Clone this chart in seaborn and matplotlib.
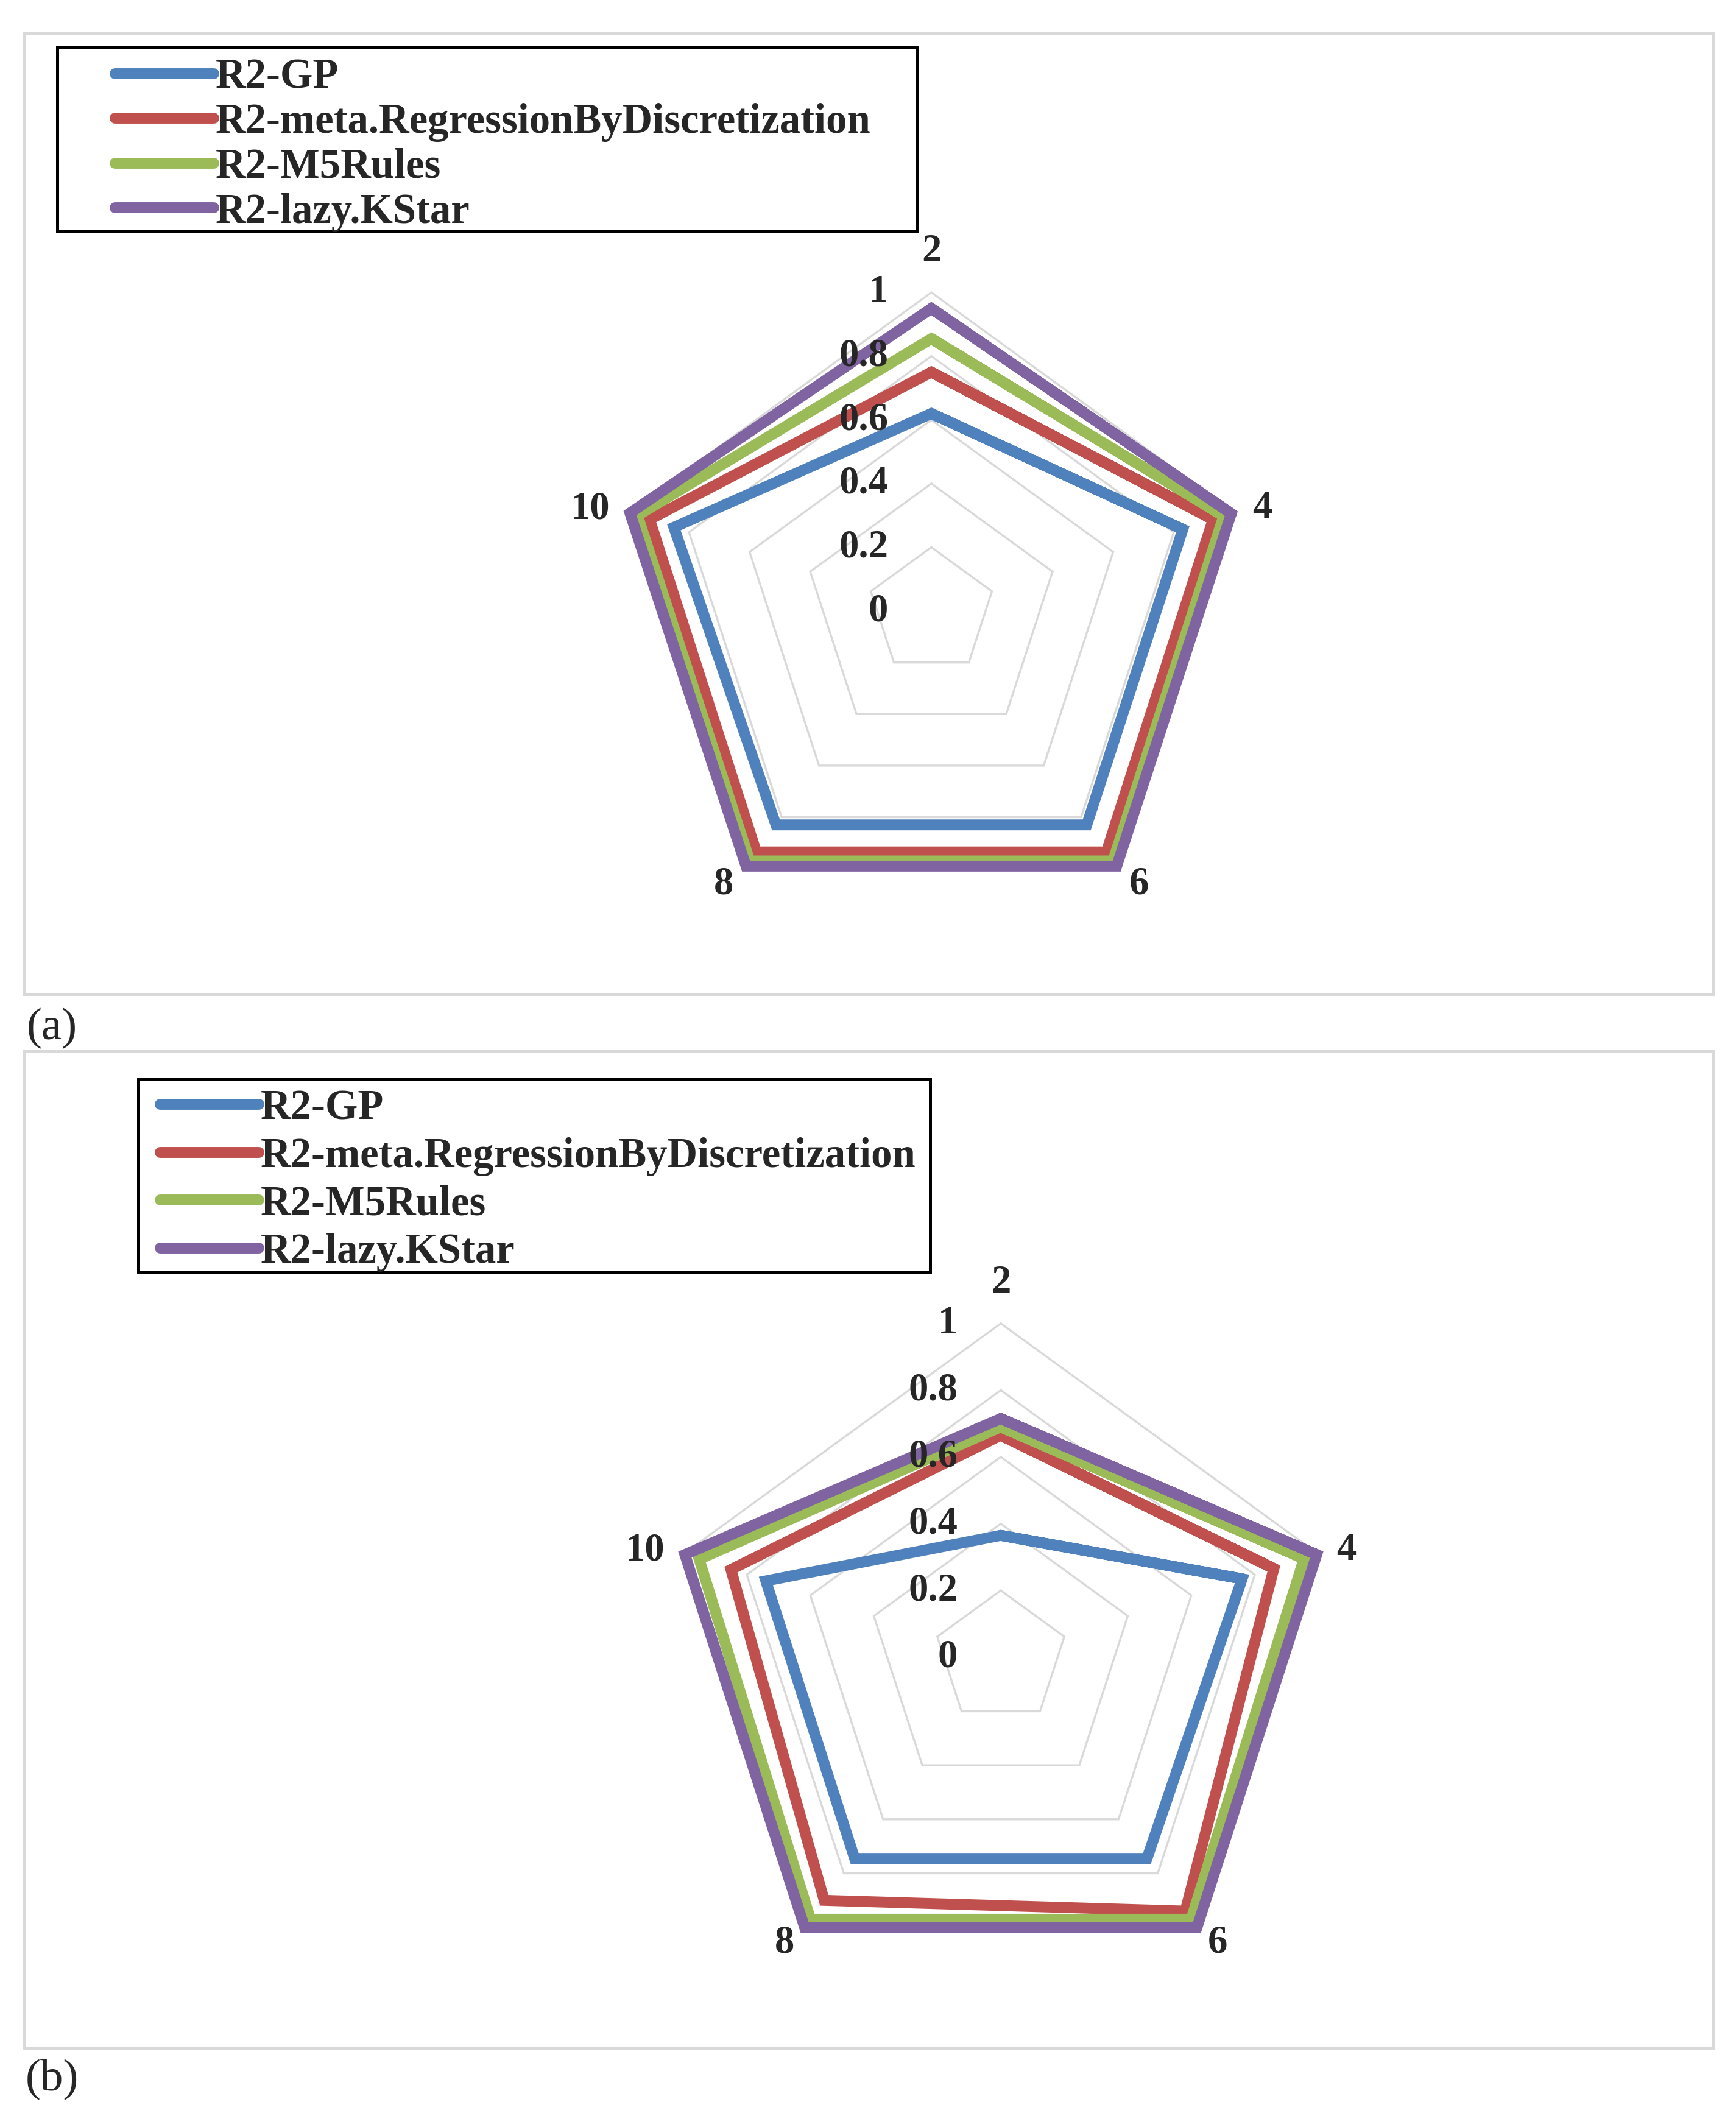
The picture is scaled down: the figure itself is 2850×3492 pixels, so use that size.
import numpy as np
import pandas as pd
import matplotlib.pyplot as plt
import seaborn as sns
from matplotlib.patches import Rectangle
from matplotlib.lines import Line2D

# axis categories (clockwise from top) and series
categories = ["2", "4", "6", "8", "10"]
series_names = ["R2-GP", "R2-meta.RegressionByDiscretization", "R2-M5Rules", "R2-lazy.KStar"]
colors = ["#4F81BD", "#C0504D", "#9BBB59", "#8064A2"]

# panel (a) values, order: 2, 4, 6, 8, 10
gp_a = [0.62, 0.83, 0.83, 0.83, 0.85]
rbd_a = [0.75, 0.93, 0.935, 0.935, 0.93]
m5_a = [0.855, 0.965, 0.97, 0.97, 0.97]
kstar_a = [0.95, 0.99, 0.99, 0.99, 0.995]

# panel (b) values
gp_b = [0.365, 0.76, 0.745, 0.745, 0.74]
rbd_b = [0.665, 0.86, 0.94, 0.90, 0.85]
m5_b = [0.69, 0.955, 0.97, 0.97, 0.95]
kstar_b = [0.715, 0.995, 1.0, 1.0, 0.995]

ticks = [0, 0.2, 0.4, 0.6, 0.8, 1]
tick_labels = ["0", "0.2", "0.4", "0.6", "0.8", "1"]

sns.set_theme(style="white")
plt.rcParams["font.family"] = ["Liberation Serif", "DejaVu Serif"]
plt.rcParams["lines.solid_joinstyle"] = "miter"

FS = 15.5
FS_LEG = 16.5
label_off = {"2": (0, 16), "4": (11, 1.5), "6": (8, -6), "8": (-8, -6), "10": (-15, 1.5)}


def radar(ax, data):
    angles = np.linspace(0, 2 * np.pi, len(categories), endpoint=False)
    loop = [0, 1, 2, 3, 4, 0, 1]
    theta = [angles[i] + (2 * np.pi if k >= 5 else 0) for k, i in enumerate(loop)]

    rows = []
    for name, vals in zip(series_names, data):
        for t, i in zip(theta, loop):
            rows.append({"series": name, "theta": t, "r": vals[i]})
    df = pd.DataFrame(rows)

    ax.set_theta_zero_location("N")
    ax.set_theta_direction(-1)

    # pentagon gridlines
    for r in ticks[1:]:
        ax.plot(theta[:6], [r] * 6, color="#d9d9d9", lw=0.8, zorder=1, clip_on=False)

    sns.lineplot(data=df, x="theta", y="r", hue="series", hue_order=series_names,
                 palette=colors, sort=False, estimator=None, linewidth=4.3,
                 legend=False, ax=ax, zorder=3)
    for ln in ax.lines:
        ln.set_clip_on(False)

    ax.set_ylim(0, 1)
    ax.grid(False)
    ax.set_xticks([])
    ax.set_yticks([])
    ax.set_xlabel("")
    ax.set_ylabel("")
    ax.spines["polar"].set_visible(False)
    ax.patch.set_alpha(0)

    for r, lab in zip(ticks, tick_labels):
        ax.annotate(lab, xy=(0, r), xytext=(-17, 0), textcoords="offset points",
                    ha="right", va="center", fontsize=FS, fontweight="bold",
                    annotation_clip=False, zorder=4)
    for a, lab in zip(angles, categories):
        ax.annotate(lab, xy=(a, 1), xytext=label_off[lab], textcoords="offset points",
                    ha="center", va="center", fontsize=FS, fontweight="bold",
                    annotation_clip=False)


fig = plt.figure(figsize=(9.5, 11.64), dpi=300, facecolor="white")

# panel frames
fig.add_artist(Rectangle((0.014, 0.5326), 0.973, 0.4516, transform=fig.transFigure,
                         fill=False, edgecolor="#d9d9d9", lw=1.2))
fig.add_artist(Rectangle((0.014, 0.0372), 0.973, 0.4685, transform=fig.transFigure,
                         fill=False, edgecolor="#d9d9d9", lw=1.2))

ax_a = fig.add_axes([0.353, 0.563, 0.367, 0.2995], projection="polar")
radar(ax_a, [gp_a, rbd_a, m5_a, kstar_a])

ax_b = fig.add_axes([0.3842, 0.0639, 0.3846, 0.3139], projection="polar")
radar(ax_b, [gp_b, rbd_b, m5_b, kstar_b])

handles = [Line2D([0], [0], color=c, lw=4.3) for c in colors]
for anchor, spacing, box in [((0.0663, 0.9726), 0.14, (0.033, 0.8915, 0.495, 0.0862)),
                             ((0.0923, 0.4879), 0.21, (0.0797, 0.4017, 0.4561, 0.0908))]:
    fig.legend(handles, series_names, loc="upper left", bbox_to_anchor=anchor,
               frameon=False, borderpad=0, borderaxespad=0, handlelength=2.35,
               handletextpad=0.05, labelspacing=spacing,
               prop={"weight": "bold", "size": FS_LEG})
    fig.add_artist(Rectangle(box[:2], box[2], box[3], transform=fig.transFigure,
                             fill=False, edgecolor="black", lw=1.2))

fig.text(0.03, 1 - 1688 / 3492, "(a)", fontsize=18, ha="center", va="center")
fig.text(0.03, 1 - 3413 / 3492, "(b)", fontsize=18, ha="center", va="center")

fig.savefig("out.png", dpi=300, facecolor="white")
